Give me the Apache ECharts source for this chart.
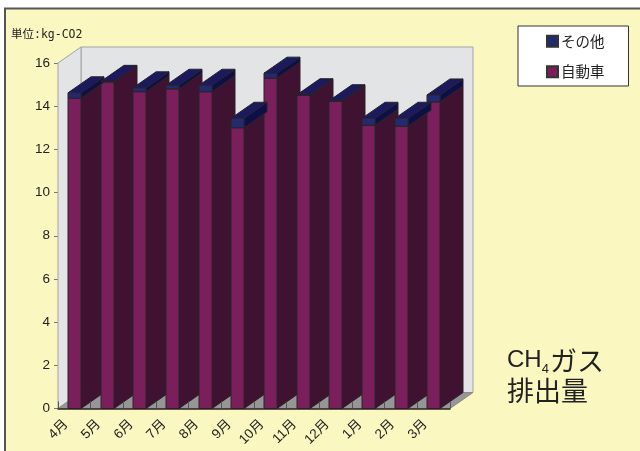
<!DOCTYPE html>
<html>
<head>
<meta charset="utf-8">
<style>
html, body { margin: 0; padding: 0; background: #fff; }
#main { width: 640px; height: 451px; }
</style>
<script src="https://cdn.jsdelivr.net/npm/echarts@6/dist/echarts.min.js"></script>
</head>
<body>
<div id="main"></div>
<script>
var months = ['4月', '5月', '6月', '7月', '8月', '9月', '10月', '11月', '12月', '1月', '2月', '3月'];
var car = [14.37, 15.12, 14.67, 14.8, 14.67, 13.0, 15.3, 14.5, 14.23, 13.12, 13.07, 14.2];
var other = [0.25, 0.03, 0.18, 0.17, 0.3, 0.44, 0.23, 0.03, 0.02, 0.32, 0.37, 0.32];
var yTicks = [0, 16, 2];

// depth of the fake 3d box, px
var DX = 23, DY = -16;
var BAR_W = 13;

function poly(points, fill, stroke) {
    return {
        type: 'polygon',
        shape: { points: points },
        style: { fill: fill, stroke: stroke || '#2b2229', lineWidth: 1 }
    };
}

function frame(params) {
    var c = params.coordSys;
    var l = c.x, r = c.x + c.width, t = c.y, b = c.y + c.height;
    var line = '#a3a3a3';
    return {
        type: 'group',
        children: [
            poly([[l + DX, t + DY], [r + DX, t + DY], [r + DX, b + DY], [l + DX, b + DY]], '#e3e4e6', line),
            poly([[l, t], [l + DX, t + DY], [l + DX, b + DY], [l, b]], '#e3e4e6', line),
            poly([[l, b], [l + DX, b + DY], [r + DX, b + DY], [r, b]], '#969696', '#8a8a8a')
        ]
    };
}

function box(front, side, top) {
    return function (params, api) {
        var x = api.value(0);
        var lo = api.coord([x, api.value(1)]);
        var hi = api.coord([x, api.value(2)]);
        var x0 = Math.round(lo[0] - BAR_W / 2), x1 = x0 + BAR_W;
        var y0 = lo[1], y1 = hi[1];
        return {
            type: 'group',
            children: [
                poly([[x1, y0], [x1 + DX, y0 + DY], [x1 + DX, y1 + DY], [x1, y1]], side),
                poly([[x0, y1], [x0 + DX, y1 + DY], [x1 + DX, y1 + DY], [x1, y1]], top),
                poly([[x0, y0], [x1, y0], [x1, y1], [x0, y1]], front)
            ]
        };
    };
}

var carData = car.map(function (v, i) { return [i, 0, v]; });
var otherData = other.map(function (v, i) { return [i, car[i], car[i] + v]; });

var myChart = echarts.init(document.getElementById('main'), null, { renderer: 'canvas' });
var option = {
    animation: false,
    backgroundColor: '#fff',
    textStyle: { fontFamily: '"Noto Sans CJK JP", "Liberation Sans", sans-serif' },
    grid: { left: 58, top: 63, width: 392, height: 345.5 },
    xAxis: {
        type: 'category',
        data: months,
        boundaryGap: true,
        z: 5,
        axisLine: { show: true, onZero: false, lineStyle: { color: '#2b2229', width: 1.5 } },
        axisTick: { show: true, inside: true, length: 7, alignWithLabel: false, lineStyle: { color: '#555' } },
        axisLabel: {
            interval: 0, rotate: 45, margin: 5, color: '#222', fontSize: 13.5,
            padding: [0, 12, 0, 0],
            fontFamily: '"Liberation Sans", "Noto Sans CJK JP", sans-serif'
        }
    },
    yAxis: {
        type: 'value',
        min: yTicks[0],
        max: yTicks[1],
        interval: yTicks[2],
        splitLine: { show: false },
        axisLine: { show: true, lineStyle: { color: '#8c8c8c', width: 1 } },
        axisTick: { show: true, length: 4, lineStyle: { color: '#777' } },
        axisLabel: { color: '#222', fontSize: 13.5, margin: 8, padding: [6, 0, 0, 0], fontFamily: '"Liberation Sans", sans-serif' }
    },
    legend: {
        left: 518,
        top: 26,
        orient: 'vertical',
        padding: [8, 24, 7, 28],
        itemGap: 16,
        itemWidth: 11,
        itemHeight: 11,
        backgroundColor: '#fff',
        borderColor: '#333',
        borderWidth: 1,
        borderRadius: 0,
        icon: 'rect',
        textStyle: { color: '#222', fontSize: 14.5, padding: [0, 0, 0, -2] },
        data: ['その他', '自動車']
    },
    graphic: [
        {
            type: 'polyline', z: 100, silent: true,
            shape: { points: [[5, 451], [5, 8.5], [640, 8.5]] },
            style: { stroke: '#555', lineWidth: 2, fill: null }
        },
        {
            type: 'rect', z: -1, silent: true,
            shape: { x: 5, y: 8, width: 635, height: 443 },
            style: { fill: '#faf7c0' }
        },
        {
            type: 'text', left: 11, top: 29,
            style: { text: '単位:kg-CO2', fill: '#222', fontSize: 11.5, fontFamily: '"DejaVu Sans Mono", "Noto Sans CJK JP", monospace' }
        },
        {
            type: 'text', left: 507, top: 347,
            style: {
                text: '{a|CH}{s|4}{b|ガス}\n{b|排出量}',
                rich: {
                    a: { fontSize: 24, lineHeight: 30, fill: '#222', fontFamily: '"Liberation Sans", sans-serif' },
                    b: { fontSize: 27, lineHeight: 30, fill: '#222', fontFamily: '"Noto Sans CJK JP", sans-serif' },
                    s: { fontSize: 13, lineHeight: 30, fill: '#222', verticalAlign: 'bottom', padding: [12, 1, 0, 0], fontFamily: '"Liberation Sans", sans-serif' }
                }
            }
        }
    ],
    series: [
        {
            type: 'custom', name: 'frame', z: 1, silent: true,
            renderItem: frame, data: [[0]],
            encode: { x: 0 }
        },
        {
            type: 'custom', name: '自動車', z: 3,
            itemStyle: { color: '#7b1f5c', borderColor: '#333', borderWidth: 0.5 },
            renderItem: box('#7b1f5c', '#3e1230', '#3e1230'),
            data: carData,
            encode: { x: 0, y: [1, 2] }
        },
        {
            type: 'custom', name: 'その他', z: 4,
            itemStyle: { color: '#232a70', borderColor: '#333', borderWidth: 0.5 },
            renderItem: box('#232a70', '#0d1048', '#1b1a5e'),
            data: otherData,
            encode: { x: 0, y: [1, 2] }
        }
    ]
};

option && myChart.setOption(option);
</script>
</body>
</html>
